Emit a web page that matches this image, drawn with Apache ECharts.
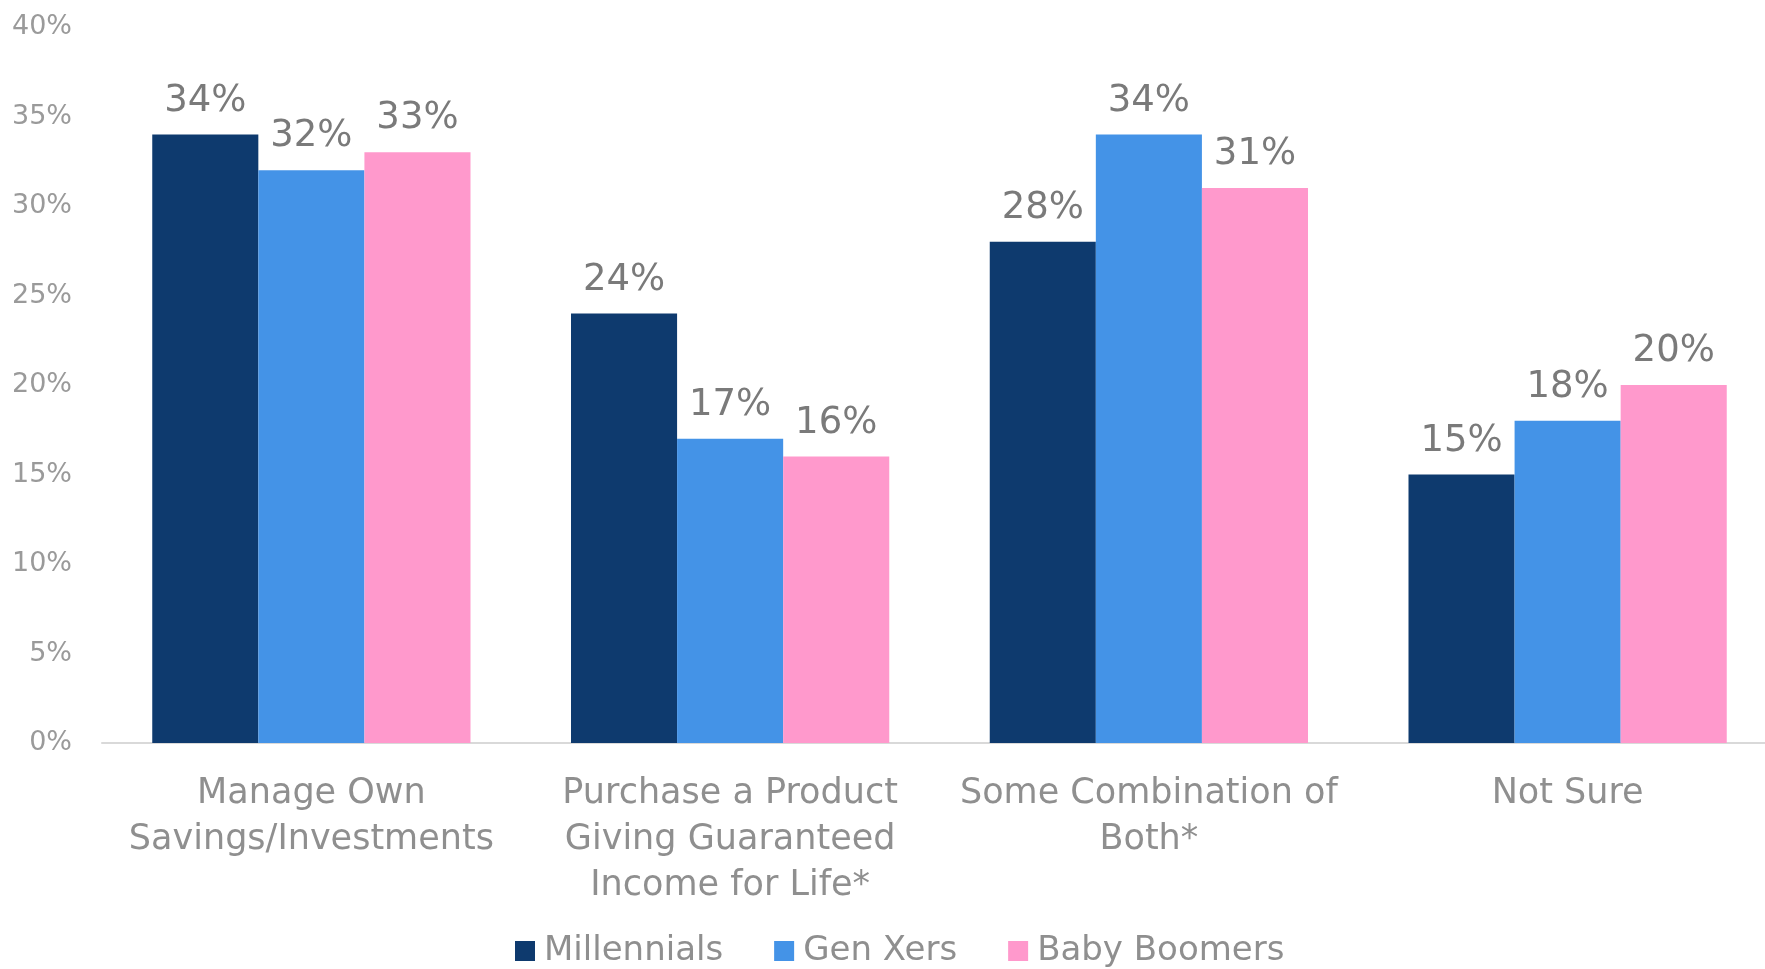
<!DOCTYPE html>
<html>
<head>
<meta charset="utf-8">
<script src="https://cdn.jsdelivr.net/npm/echarts@6/dist/echarts.min.js"></script>
<style>
    html, body { margin: 0; padding: 0; background: #fff; overflow: hidden; }
    #chartOne { width: 1777px; height: 969px; }
</style>
</head>
<body>
<div id="chartOne"></div>
<script>
var categories = [
    'Manage Own\nSavings/Investments',
    'Purchase a Product\nGiving Guaranteed\nIncome for Life*',
    'Some Combination of\nBoth*',
    'Not Sure'
];
var millennials = [34, 24, 28, 15];
var genXers = [32, 17, 34, 18];
var babyBoomers = [33, 16, 31, 20];
var yTicks = { min: 0, max: 40, interval: 5 };

var font = 'DejaVu Sans';

function barSeries(name, data, color) {
    return {
        name: name,
        type: 'bar',
        data: data,
        barGap: '0%',
        barCategoryGap: '24%',
        itemStyle: { color: color },
        label: {
            show: true,
            position: 'top',
            distance: 15,
            formatter: '{c}%',
            color: '#7a7a7a',
            fontFamily: font,
            fontSize: 37
        }
    };
}

var option = {
    animation: false,
    grid: { left: 102, top: 27, bottom: 226, right: 0, containLabel: false },
    legend: {
        left: 510,
        top: 929,
        itemWidth: 20,
        itemHeight: 20,
        itemGap: 51,
        icon: 'rect',
        textStyle: { color: '#8f8f8f', fontFamily: font, fontSize: 34, padding: [0, 0, 0, 4] },
        data: ['Millennials', 'Gen Xers', 'Baby Boomers']
    },
    xAxis: {
        type: 'category',
        data: categories,
        axisLine: { lineStyle: { color: '#d9d9d9', width: 2 } },
        axisTick: { show: false },
        axisLabel: {
            color: '#8f8f8f',
            fontFamily: font,
            fontSize: 35,
            lineHeight: 46,
            margin: 28,
            interval: 0
        }
    },
    yAxis: {
        type: 'value',
        min: yTicks.min,
        max: yTicks.max,
        interval: yTicks.interval,
        splitLine: { show: false },
        axisLine: { show: false },
        axisTick: { show: false },
        axisLabel: {
            formatter: '{value}%',
            color: '#9a9a9a',
            fontFamily: font,
            fontSize: 27,
            margin: 30
        }
    },
    series: [
        barSeries('Millennials', millennials, '#0e3a6e'),
        barSeries('Gen Xers', genXers, '#4493e7'),
        barSeries('Baby Boomers', babyBoomers, '#ff99cc')
    ]
};

var chartOne = echarts.init(document.getElementById('chartOne'));
chartOne.setOption(option, true);
</script>
</body>
</html>
